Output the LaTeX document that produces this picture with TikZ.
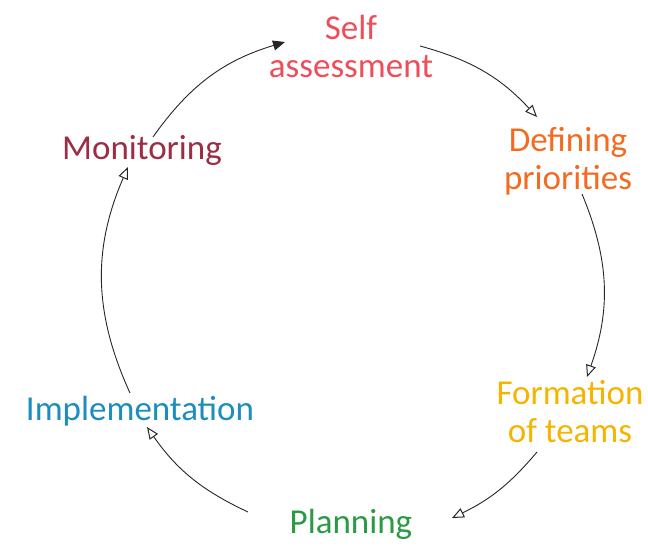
\documentclass[tikz,border=0pt]{standalone}
\usepackage{fontspec}
\setmainfont{Carlito}
\usetikzlibrary{arrows.meta}
\definecolor{cself}{HTML}{EC4E5A}
\definecolor{cdef}{HTML}{F26B21}
\definecolor{cform}{HTML}{F6B400}
\definecolor{cplan}{HTML}{2A9A45}
\definecolor{cimpl}{HTML}{1C8DBF}
\definecolor{cmon}{HTML}{9B2D45}
\tikzset{
  lbl/.style={font=\fontsize{35}{38}\selectfont, align=center, inner sep=0pt},
  arr/.style={draw=black!85, line width=0.9pt, -{Triangle[open,length=12pt,width=10pt,line width=1pt]}},
  arrf/.style={draw=black!85, line width=0.9pt, -{Triangle[length=12pt,width=10pt]}},
}
\begin{document}
\begin{tikzpicture}[x=1pt,y=-1pt]
\useasboundingbox (0,0) rectangle (648,553);
\node[lbl, text=cself] (self) at (351,46) {Self\\assessment};
\node[lbl, text=cdef] (def) at (568,161) {Defining\\priorities};
\node[lbl, text=cform] (form) at (570,412) {Formation\\of teams};
\node[lbl, text=cplan, anchor=base] (plan) at (351,533) {Planning};
\node[lbl, text=cimpl, anchor=base] (impl) at (140,420) {Implementation};
\node[lbl, text=cmon, anchor=base] (mon) at (142,160) {Monitoring};
\coordinate (m1) at (153,137); \coordinate (s0) at (285,42);
\coordinate (s1) at (420,46);  \coordinate (d0) at (537,117);
\coordinate (d1) at (582,194); \coordinate (f0) at (587,377);
\coordinate (f1) at (537,452); \coordinate (p0) at (452,518);
\coordinate (p1) at (248,512); \coordinate (i0) at (147,427);
\coordinate (i1) at (130,393); \coordinate (m0) at (128,167);
\draw[arrf] (m1) to[bend left=19] (s0);
\draw[arr] (s1) to[bend left=16] (d0);
\draw[arr] (d1) to[bend left=21] (f0);
\draw[arr] (f1) to[bend left=12] (p0);
\draw[arr] (p1) to[bend left=15] (i0);
\draw[arr] (i1) to[bend left=24] (m0);
\end{tikzpicture}
\end{document}
